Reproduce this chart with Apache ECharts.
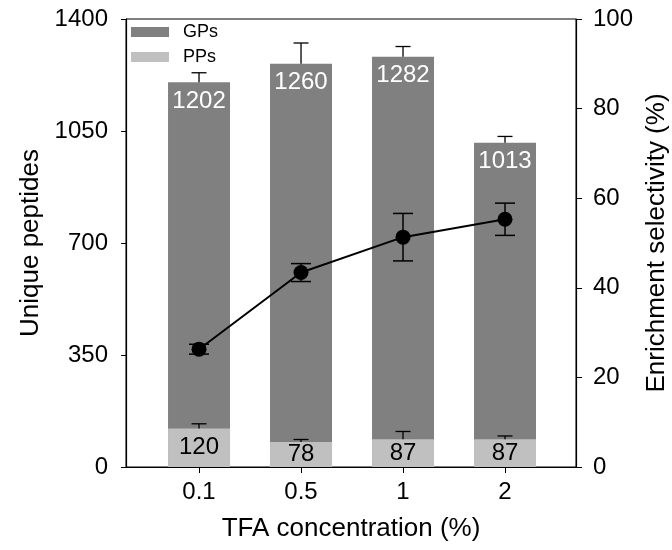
<!DOCTYPE html>
<html><head><meta charset="utf-8">
<script src="https://cdn.jsdelivr.net/npm/echarts@6/dist/echarts.min.js"></script>
<style>html,body{margin:0;padding:0;background:#fff}#c{width:672px;height:550px}</style>
</head><body><div id="c"></div>
<script>
var categories = ['0.1', '0.5', '1', '2'];
var gpValues = [1202, 1260, 1282, 1013];
var gpErr = [30, 65, 32, 20];
var ppValues = [120, 78, 87, 87];
var ppErr = [15, 8, 24, 10];
var selValues = [26.3, 43.4, 51.3, 55.3];
var selErr = [1.1, 2.0, 5.3, 3.6];
var leftTicks = [0, 350, 700, 1050, 1400];
var rightTicks = [0, 20, 40, 60, 80, 100];

var FONT = 'Liberation Sans, Arial, sans-serif';
var idx = categories.map(function (c, i) { return i; });

function pairs(vals) { return vals.map(function (v, i) { return [i, v]; }); }
function errData(vals, errs) { return vals.map(function (v, i) { return [i, v, errs[i]]; }); }

function upErr(capHalf) {
  return function (params, api) {
    var x = api.value(0), v = api.value(1), e = api.value(2);
    var p0 = api.coord([x, v]);
    var p1 = api.coord([x, v + e]);
    var st = { stroke: '#000', lineWidth: 1.3 };
    return { type: 'group', children: [
      { type: 'line', shape: { x1: p0[0], y1: p0[1], x2: p1[0], y2: p1[1] }, style: st },
      { type: 'line', shape: { x1: p1[0] - capHalf, y1: p1[1], x2: p1[0] + capHalf, y2: p1[1] }, style: st }
    ]};
  };
}
function bothErr(capHalf) {
  return function (params, api) {
    var x = api.value(0), v = api.value(1), e = api.value(2);
    var p0 = api.coord([x, v - e]);
    var p1 = api.coord([x, v + e]);
    var st = { stroke: '#000', lineWidth: 1.5 };
    return { type: 'group', children: [
      { type: 'line', shape: { x1: p0[0], y1: p0[1], x2: p1[0], y2: p1[1] }, style: st },
      { type: 'line', shape: { x1: p1[0] - capHalf, y1: p1[1], x2: p1[0] + capHalf, y2: p1[1] }, style: st },
      { type: 'line', shape: { x1: p0[0] - capHalf, y1: p0[1], x2: p0[0] + capHalf, y2: p0[1] }, style: st }
    ]};
  };
}

var chart = echarts.init(document.getElementById('c'));
chart.setOption({
  animation: false,
  backgroundColor: '#fff',
  textStyle: { fontFamily: FONT },
  grid: { left: 126, right: 96, top: 19, bottom: 83, outerBoundsMode: 'none', containLabel: false,
    show: true, borderColor: '#000', borderWidth: 1, backgroundColor: 'transparent' },
  legend: {
    orient: 'vertical', left: 126, top: 18, itemWidth: 38, itemHeight: 10, itemGap: 7,
    textStyle: { fontSize: 18, color: '#000', fontFamily: FONT, padding: [0, 0, 0, 9] },
    data: [{ name: 'GPs', icon: 'rect' }, { name: 'PPs', icon: 'rect' }]
  },
  xAxis: {
    type: 'value', min: -0.716, max: 3.696,
    name: 'TFA concentration (%)', nameLocation: 'middle', nameGap: 49,
    nameTextStyle: { fontSize: 26, color: '#000', fontFamily: FONT },
    axisLine: { onZero: false, lineStyle: { color: '#000', width: 1.2 } },
    axisTick: { show: true, customValues: idx, length: 6, lineStyle: { color: '#000' } },
    axisLabel: { customValues: idx, fontSize: 24, color: '#000', margin: 13, fontFamily: FONT,
      formatter: function (v) { return categories[Math.round(v)]; } },
    splitLine: { show: false }
  },
  yAxis: [{
    type: 'value', min: 0, max: 1400, interval: 350, position: 'left',
    name: 'Unique peptides', nameLocation: 'middle', nameGap: 82, nameRotate: 90,
    nameTextStyle: { fontSize: 26, color: '#000', fontFamily: FONT },
    axisLine: { show: true, onZero: false, lineStyle: { color: '#000', width: 1.2 } },
    axisTick: { show: true, length: 5, lineStyle: { color: '#000' } },
    axisLabel: { fontSize: 24, color: '#000', margin: 18, fontFamily: FONT,
      formatter: function (v) { return String(v); } },
    splitLine: { show: false }
  }, {
    type: 'value', min: 0, max: 100, interval: 20, position: 'right',
    name: 'Enrichment selectivity (%)', nameLocation: 'middle', nameGap: 63, nameRotate: 90,
    nameTextStyle: { fontSize: 26, color: '#000', fontFamily: FONT },
    axisLine: { show: true, onZero: false, lineStyle: { color: '#000', width: 1.2 } },
    axisTick: { show: true, length: 6, lineStyle: { color: '#000' } },
    axisLabel: { fontSize: 24, color: '#000', margin: 17, fontFamily: FONT,
      formatter: function (v) { return String(v); } },
    splitLine: { show: false }
  }],
  series: [{
    name: 'GPs', type: 'bar', data: pairs(gpValues), barWidth: 62, barGap: '-100%',
    itemStyle: { color: '#808080' },
    label: { show: true, position: 'insideTop', distance: 7, fontSize: 24, color: '#fff', fontFamily: FONT,
      formatter: function (p) { return p.value[1]; } }
  }, {
    name: 'PPs', type: 'bar', data: pairs(ppValues), barWidth: 62, barGap: '-100%',
    itemStyle: { color: '#c0c0c0' },
    label: { show: true, position: 'inside', fontSize: 24, color: '#000', fontFamily: FONT,
      formatter: function (p) { return p.value[1]; } }
  }, {
    type: 'custom', data: errData(gpValues, gpErr), renderItem: upErr(7.5), z: 5
  }, {
    type: 'custom', data: errData(ppValues, ppErr), renderItem: upErr(7.5), z: 5
  }, {
    name: 'Selectivity', type: 'line', yAxisIndex: 1, data: pairs(selValues),
    symbol: 'circle', symbolSize: 15, lineStyle: { color: '#000', width: 2 },
    itemStyle: { color: '#000' }, z: 6
  }, {
    type: 'custom', yAxisIndex: 1, data: errData(selValues, selErr), renderItem: bothErr(10), z: 7
  }]
});
</script>
</body></html>
